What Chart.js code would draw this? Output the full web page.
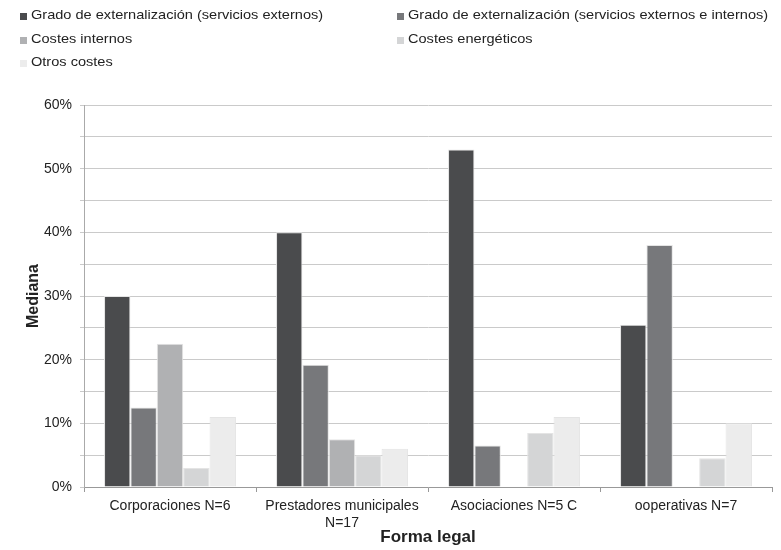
<!DOCTYPE html>
<html>
<head>
<meta charset="utf-8">
<script src="https://cdn.jsdelivr.net/npm/chart.js@4"></script>
<style>
  html, body { margin: 0; padding: 0; background: #fff; }
  #wrap { position: relative; width: 781px; height: 550px; }
  .item {
    position: absolute; height: 18px; line-height: 18px; white-space: nowrap;
    font: 13px "Liberation Sans", Arial, sans-serif; color: #222;
  }
  .item .box { position: absolute; left: 0; top: 6px; width: 7px; height: 7px; }
  .item .txt { position: absolute; left: 11px; top: 0; transform: scaleX(1.12); transform-origin: 0 50%; }
</style>
</head>
<body>
<div id="wrap">
  <canvas id="chart" width="781" height="550"></canvas>
</div>
<script>
const categories = ['Corporaciones N=6', ['Prestadores municipales', 'N=17'], 'Asociaciones N=5 C', 'ooperativas N=7'];
const seriesNames = [
  'Grado de externalización (servicios externos)',
  'Grado de externalización (servicios externos e internos)',
  'Costes internos',
  'Costes energéticos',
  'Otros costes'
];
const externos = [30, 40, 53, 25.5];
const externosInternos = [12.5, 19.2, 6.5, 38];
const costesInternos = [22.5, 7.5, null, null];
const costesEnergeticos = [3, 5, 8.5, 4.5];
const otrosCostes = [11, 6, 11, 10];
const seriesColors = ['#4a4b4d', '#77787b', '#b0b1b3', '#d4d5d6', '#ececec'];

const values = [externos, externosInternos, costesInternos, costesEnergeticos, otrosCostes];
const font = { family: '"Liberation Sans", Arial, sans-serif', size: 14 };

// legend: two columns, three rows
const wrap = document.getElementById('wrap');
seriesNames.forEach((name, i) => {
  const item = document.createElement('div');
  item.className = 'item';
  item.style.left = (i % 2 === 0 ? 20 : 397) + 'px';
  item.style.top = (7 + Math.floor(i / 2) * 23.5) + 'px';
  const box = document.createElement('span');
  box.className = 'box';
  box.style.background = seriesColors[i];
  const txt = document.createElement('span');
  txt.className = 'txt';
  txt.textContent = name;
  item.appendChild(box);
  item.appendChild(txt);
  wrap.appendChild(item);
});

new Chart(document.getElementById('chart'), {
  type: 'bar',
  data: {
    labels: categories,
    datasets: values.map((data, i) => ({
      label: seriesNames[i],
      data: data,
      backgroundColor: seriesColors[i],
      borderColor: '#e4e4e4',
      borderWidth: 1,
      barPercentage: 1,
      categoryPercentage: 0.767
    }))
  },
  options: {
    responsive: false,
    animation: false,
    layout: { padding: { left: 24, right: 9, top: 105, bottom: 2 } },
    plugins: { legend: { display: false }, tooltip: { enabled: false } },
    scales: {
      x: {
        grid: { drawOnChartArea: false, offset: true, tickLength: 5, color: '#999' },
        border: { color: '#999' },
        ticks: { font: font, color: '#222', padding: 6, maxRotation: 0 },
        title: { display: true, text: 'Forma legal', font: { family: font.family, size: 17, weight: 'bold' }, color: '#222', padding: 0 },
        afterFit: (s) => { s.height = 61; }
      },
      y: {
        min: 0,
        max: 60,
        grid: { color: '#cacaca', tickLength: 4 },
        border: { color: '#aaa' },
        ticks: {
          stepSize: 5,
          font: font,
          color: '#222',
          padding: 8,
          callback: (v) => (v % 10 === 0 ? v + '%' : '')
        },
        title: { display: true, text: 'Mediana', font: { family: font.family, size: 16, weight: 'bold' }, color: '#222', padding: 0 },
        afterFit: (s) => { s.width = 60; }
      }
    }
  }
});
</script>
</body>
</html>
